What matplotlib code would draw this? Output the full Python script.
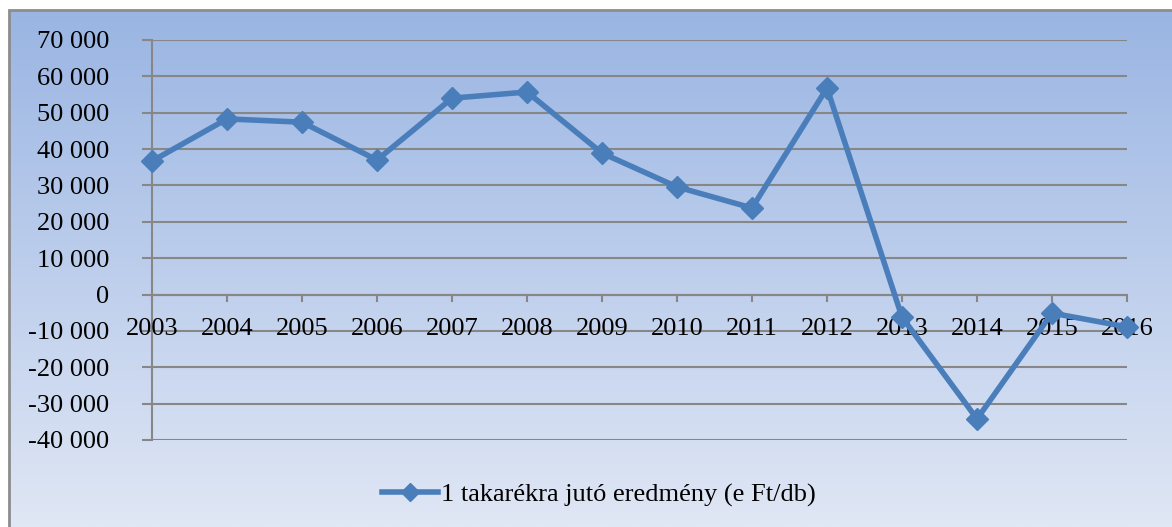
import numpy as np
import matplotlib.pyplot as plt
from matplotlib.colors import LinearSegmentedColormap
from matplotlib.patches import Rectangle

years = [2003, 2004, 2005, 2006, 2007, 2008, 2009, 2010, 2011, 2012, 2013, 2014, 2015, 2016]
eredmeny = [36700, 48300, 47400, 37000, 54000, 55700, 38900, 29600, 23800, 56800, -6200, -34200, -5100, -8900]
yticks = [70000, 60000, 50000, 40000, 30000, 20000, 10000, 0, -10000, -20000, -30000, -40000]
label = '1 takarékra jutó eredmény (e Ft/db)'

plt.rcParams['font.family'] = ['Liberation Serif', 'DejaVu Serif']

W, H = 1172, 527
fig = plt.figure(figsize=(W / 100, H / 100), dpi=100)
fig.patch.set_facecolor('white')

# gradient background inside the chart border
bg = fig.add_axes([10 / W, 0, 1 - 10 / W, 1 - 10 / H], zorder=0)
grad = np.linspace(0, 1, 256).reshape(-1, 1)
cmap = LinearSegmentedColormap.from_list('bg', ['#9ab5e3', '#e0e7f5'])
bg.imshow(grad, aspect='auto', cmap=cmap, extent=[0, 1, 0, 1], origin='upper')
bg.set_xlim(0, 1)
bg.set_ylim(0, 1)
bg.axis('off')
fig.add_artist(Rectangle((9.5 / W, -0.1), 2, 1.1 - 10 / H, transform=fig.transFigure,
                         fill=False, edgecolor='#8c8c8c', linewidth=2, zorder=1))

ax = fig.add_axes([152 / W, 1 - 440 / H, (1127 - 152) / W, 400 / H], zorder=2)
ax.patch.set_alpha(0)

ax.set_ylim(-40000, 70000)
ax.set_xlim(years[0], years[-1])
ax.set_yticks(yticks)
ax.set_yticklabels([f'{v:,}'.replace(',', ' ') for v in yticks], fontsize=19)
ax.yaxis.grid(True, color='#878787', linewidth=1.5)
ax.tick_params(axis='y', length=7, width=1.5, color='#878787', pad=24)

for s in ['top', 'right', 'bottom']:
    ax.spines[s].set_visible(False)
ax.spines['left'].set_color('#878787')
ax.spines['left'].set_linewidth(1.5)

# x axis at zero, labels below it
ax.axhline(0, color='#878787', linewidth=1.5, zorder=1)
ax.set_xticks([])
for yr in years:
    ax.plot([yr, yr], [0, -1900], color='#878787', linewidth=1.5, clip_on=False)
    ax.text(yr, -9500, str(yr), ha='center', va='center', fontsize=19, clip_on=False)

ax.plot(years, eredmeny, color='#4a7ebb', linewidth=4, marker='D', markersize=11,
        label=label, clip_on=False, zorder=3)

leg = fig.legend(loc='center', bbox_to_anchor=(0.511, 1 - 495 / H), frameon=False,
                 fontsize=19, handlelength=2.1, handletextpad=0.1)
for h in leg.legend_handles:
    h.set_markersize(9)

fig.savefig('out.png', dpi=100)
